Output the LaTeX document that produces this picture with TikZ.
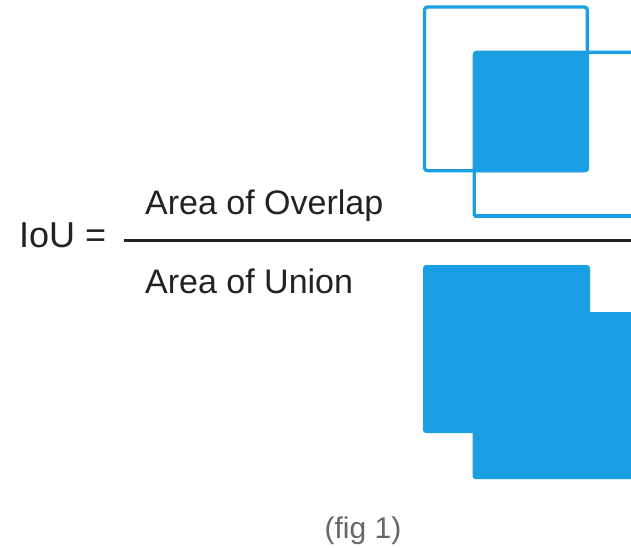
\documentclass[tikz,border=0pt]{standalone}
\usepackage{fontspec}
\setmainfont{Liberation Sans}
\definecolor{boxblue}{HTML}{1A9FE5}
\definecolor{inktext}{HTML}{222222}
\definecolor{captiongray}{HTML}{666666}
\tikzset{
  eqtext/.style={font=\fontsize{36}{42}\selectfont,text=inktext,inner sep=0pt,anchor=base west},
  fractext/.style={font=\fontsize{34}{40}\selectfont,text=inktext,inner sep=0pt,anchor=base west},
  captext/.style={font=\fontsize{30}{35}\selectfont,text=captiongray,inner sep=0pt,anchor=base},
  bar/.style={draw=inktext,line width=3pt},
  outline/.style={draw=boxblue,line width=3.3pt,rounded corners=3pt},
  solid box/.style={fill=boxblue,rounded corners=3pt}
}
\begin{document}
\begin{tikzpicture}[x=1pt,y=-1pt]
\path[use as bounding box,fill=white] (0,0) rectangle (631,547);
% overlap: two outlined boxes, shared part filled
\fill[solid box] (473,51) rectangle (589,172);
\draw[outline] (424.5,7) rectangle (587.3,170.7);
\draw[outline] (474.3,216) -- (474.3,52.3) -- (640,52.3);
\draw[outline] (640,216) -- (474.3,216);
% union: both boxes filled
\fill[solid box] (423,265) rectangle (590,433);
\fill[solid box] (472.5,312) rectangle (640,479);
% formula
\node[eqtext] (lhs) at (19,247) {IoU =};
\node[fractext] (num) at (145,214) {Area of Overlap};
\node[fractext] (den) at (145,293) {Area of Union};
\coordinate (barL) at (124,240);
\coordinate (barR) at (631,240);
\draw[bar] (barL) -- (barR);
\node[captext] (cap) at (363,538) {(fig 1)};
\end{tikzpicture}
\end{document}
